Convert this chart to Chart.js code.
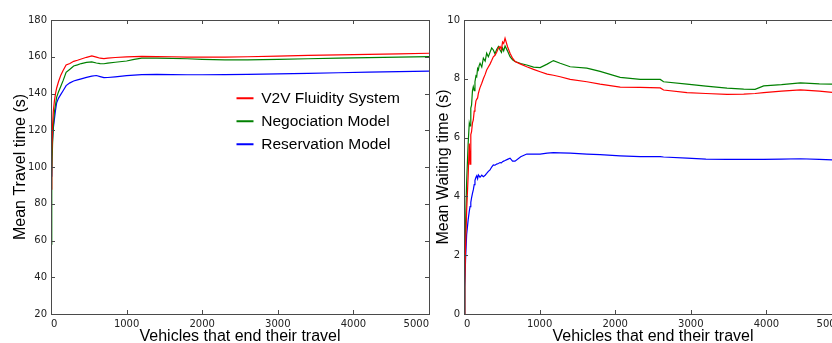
<!DOCTYPE html>
<html>
<head>
<meta charset="utf-8">
<script src="https://cdn.jsdelivr.net/npm/chart.js@4.4.1/dist/chart.umd.min.js"></script>
<style>
  html, body { margin: 0; padding: 0; background: #fff; overflow: hidden; }
  #wrap { position: relative; width: 832px; height: 343px; overflow: hidden; }
  #travelChart { position: absolute; left: 0; top: 0; }
  #waitChart { position: absolute; left: 432px; top: 0; }
</style>
</head>
<body>
<div id="wrap">
  <canvas id="travelChart" width="440" height="343"></canvas>
  <canvas id="waitChart" width="420" height="343"></canvas>
</div>
<script>
// series names and colours
const seriesNames = ['V2V Fluidity System', 'Negociation Model', 'Reservation Model'];
const seriesColors = ['#ff0000', '#008000', '#0000ff'];

// left panel: mean travel time (s)
const travelX = [0, 10, 20, 30, 45, 60, 75, 100, 130, 160, 200, 250, 300, 350, 400, 470, 540, 600, 650, 700,
    750, 850, 1000, 1100, 1200, 1400, 1600, 1800, 2000, 2300, 2600, 3000, 3400, 3800, 4200, 4600, 5000];
const travelV2V = [88, 108, 122, 130, 136, 140, 143, 146.5, 150, 152.5, 155.5, 156.3, 157.5, 158.1, 158.8, 159.7, 160.5, 159.8, 159.2, 159,
    159.3, 159.6, 159.9, 160.1, 160.2, 160.1, 160, 159.8, 159.8, 159.8, 160, 160.3, 160.7, 161, 161.3, 161.6, 161.9];
const travelNego = [58, 95, 112, 122, 130, 134, 138, 141, 144, 147, 151.5, 153.2, 155, 155.6, 156.3, 156.9, 157.2, 156.6, 156.3, 156.2,
    156.5, 157, 157.7, 158.6, 159.2, 159.3, 159.1, 158.9, 158.6, 158.3, 158.3, 158.6, 158.9, 159.2, 159.5, 159.8, 160.1];
const travelResv = [95, 105, 115, 121, 126, 131, 135, 137.5, 139.5, 141.5, 144.3, 145.8, 146.8, 147.4, 148, 148.8, 149.5, 149.8, 149.2, 148.6,
    148.7, 149.1, 149.7, 150, 150.3, 150.4, 150.3, 150.2, 150.2, 150.3, 150.4, 150.7, 151, 151.3, 151.6, 151.9, 152.2];

// right panel: mean waiting time (s)
const waitX = [0, 10, 20, 35, 55, 70, 80, 90, 100, 112, 123, 135, 145, 158, 168, 180, 190, 200, 212, 235, 256, 280, 300, 322, 344,
    366, 388, 410, 432, 455, 477, 495, 510, 525, 543,
    575, 609, 642, 675, 750, 830, 920, 1007, 1100, 1183, 1272, 1404, 1625, 1800, 2066, 2331, 2596, 2640, 2950, 3200,
    3479, 3700, 3850, 3964, 4200, 4450, 4700, 4870, 5000];
const waitV2V = [0, 1.0, 2.2, 3.5, 4.7, 5.8, 5.1, 6.1, 6.2, 6.5, 6.6, 6.9, 7.0, 7.25, 7.3, 7.35, 7.5, 7.6, 7.7, 7.85, 8.0, 8.15, 8.3, 8.4, 8.5,
    8.62, 8.75, 8.8, 8.9, 9.05, 9.1, 9.0, 9.25, 9.2, 9.38,
    9.1, 8.87, 8.7, 8.59, 8.5, 8.41, 8.32, 8.24, 8.16, 8.12, 8.07, 7.98, 7.9, 7.82, 7.72, 7.71, 7.69, 7.62, 7.53, 7.5,
    7.47, 7.48, 7.5, 7.53, 7.58, 7.62, 7.58, 7.54, 7.52];
const waitNego = [0, 1.5, 3.0, 4.5, 5.8, 6.5, 6.4, 7.0, 7.1, 7.6, 7.73, 7.6, 7.9, 8.1, 8.07, 8.35, 8.3, 8.45, 8.53, 8.4, 8.7, 8.6, 8.87, 8.75, 8.9,
    9.05, 8.98, 8.85, 9.0, 9.1, 8.98, 8.9, 9.05, 8.95, 9.12,
    8.95, 8.75, 8.65, 8.59, 8.52, 8.47, 8.4, 8.38, 8.5, 8.62, 8.53, 8.41, 8.36, 8.25, 8.05, 7.98, 7.98, 7.9, 7.82, 7.75,
    7.68, 7.65, 7.64, 7.76, 7.8, 7.86, 7.83, 7.82, 7.82];
const waitResv = [0, 0.9, 1.8, 2.7, 3.2, 3.5, 3.65, 3.8, 3.95, 4.1, 4.22, 4.4, 4.55, 4.65, 4.7, 4.6, 4.73, 4.7, 4.65, 4.72, 4.67, 4.72, 4.78, 4.85, 4.9,
    5.0, 5.07, 5.06, 5.1, 5.12, 5.15, 5.14, 5.18, 5.2, 5.22,
    5.26, 5.3, 5.2, 5.2, 5.35, 5.44, 5.44, 5.44, 5.47, 5.49, 5.48, 5.47, 5.44, 5.42, 5.38, 5.35, 5.35, 5.34, 5.3, 5.27,
    5.26, 5.26, 5.26, 5.26, 5.27, 5.28, 5.26, 5.24, 5.24];

const xTicksStep = 1000;
const travelTicks = { min: 20, max: 180, step: 20 };
const waitTicks = { min: 0, max: 10, step: 2 };

const tickFont = { family: 'DejaVu Sans', size: 10 };
const titleFont = { family: 'Liberation Sans', size: 16, lineHeight: 1 };

// matplotlib-like box with inward tick marks
const axesFrame = {
    id: 'axesFrame',
    afterDatasetsDraw(chart) {
        const { ctx, chartArea: a, scales: { x, y } } = chart;
        ctx.save();
        ctx.strokeStyle = '#4a4a4a';
        ctx.lineWidth = 1;
        ctx.beginPath();
        x.ticks.forEach(t => {
            const px = Math.round(x.getPixelForValue(t.value)) + 0.5;
            ctx.moveTo(px, a.top); ctx.lineTo(px, a.top + 4);
            ctx.moveTo(px, a.bottom); ctx.lineTo(px, a.bottom - 4);
        });
        y.ticks.forEach(t => {
            const py = Math.round(y.getPixelForValue(t.value)) + 0.5;
            ctx.moveTo(a.left, py); ctx.lineTo(a.left + 4, py);
            ctx.moveTo(a.right, py); ctx.lineTo(a.right - 4, py);
        });
        ctx.stroke();
        ctx.strokeRect(Math.round(a.left) + 0.5, Math.round(a.top) + 0.5,
            Math.round(a.right - a.left), Math.round(a.bottom - a.top));
        ctx.restore();
    }
};

// put the legend box inside the plot, right of centre
const legendPlacer = {
    id: 'legendPlacer',
    afterLayout(chart) {
        const lg = chart.legend;
        if (!lg || !chart.options.plugins.legend.display) return;
        lg.left = 229;
        lg.top = 83;
        lg.right = lg.left + lg.width;
        lg.bottom = lg.top + lg.height;
    }
};

function makeDatasets(xs, series) {
    return series.map((ys, i) => ({
        label: seriesNames[i],
        data: xs.map((x, k) => ({ x: x, y: ys[k] })),
        borderColor: seriesColors[i],
        backgroundColor: seriesColors[i],
        borderWidth: 1.2,
        pointRadius: 0,
        pointStyle: 'line',
        tension: 0,
        fill: false
    }));
}

function makeChart(canvasId, datasets, yTicks, yTitle, yAxisWidth, yTitlePad, rightPad, showLegend) {
    return new Chart(document.getElementById(canvasId), {
        type: 'line',
        data: { datasets },
        plugins: [axesFrame, legendPlacer],
        options: {
            responsive: false,
            animation: false,
            devicePixelRatio: 1,
            layout: { padding: { left: 0, top: 20, right: rightPad, bottom: 0 } },
            plugins: {
                tooltip: { enabled: false },
                legend: {
                    display: showLegend,
                    position: 'chartArea',
                    align: 'start',
                    labels: {
                        usePointStyle: true,
                        pointStyle: 'line',
                        pointStyleWidth: 17,
                        padding: 7.5,
                        color: '#000',
                        font: { family: 'Liberation Sans', size: 15.5 },
                        generateLabels: (chart) => Chart.defaults.plugins.legend.labels.generateLabels(chart)
                            .map(item => ({ ...item, lineWidth: 2 }))
                    }
                }
            },
            scales: {
                x: {
                    type: 'linear',
                    min: 0,
                    max: 5000,
                    afterFit: s => { s.height = 29; },
                    grid: { display: false, drawTicks: false },
                    border: { display: false },
                    ticks: {
                        stepSize: xTicksStep, align: 'inner', padding: 4, color: '#222', font: tickFont,
                        maxRotation: 0, autoSkip: false, callback: v => String(v)
                    },
                    title: {
                        display: true, text: 'Vehicles that end their travel', color: '#000',
                        font: { family: 'Liberation Sans', size: 16, lineHeight: 0.85 }, padding: { top: 0, bottom: 0 }
                    }
                },
                y: {
                    type: 'linear',
                    min: yTicks.min,
                    max: yTicks.max,
                    afterFit: s => { s.width = yAxisWidth; },
                    grid: { display: false, drawTicks: false },
                    border: { display: false },
                    ticks: { stepSize: yTicks.step, padding: 4, color: '#222', font: tickFont, callback: v => String(v) },
                    title: {
                        display: true, text: yTitle, color: '#000',
                        font: titleFont, padding: { top: yTitlePad, bottom: 0 }
                    }
                }
            }
        }
    });
}

makeChart('travelChart', makeDatasets(travelX, [travelV2V, travelNego, travelResv]),
    travelTicks, 'Mean Travel time (s)', 51, 12.5, 11, true);
makeChart('waitChart', makeDatasets(waitX, [waitV2V, waitNego, waitResv]),
    waitTicks, 'Mean Waiting time (s)', 32, 4, 10, false);
</script>
</body>
</html>
